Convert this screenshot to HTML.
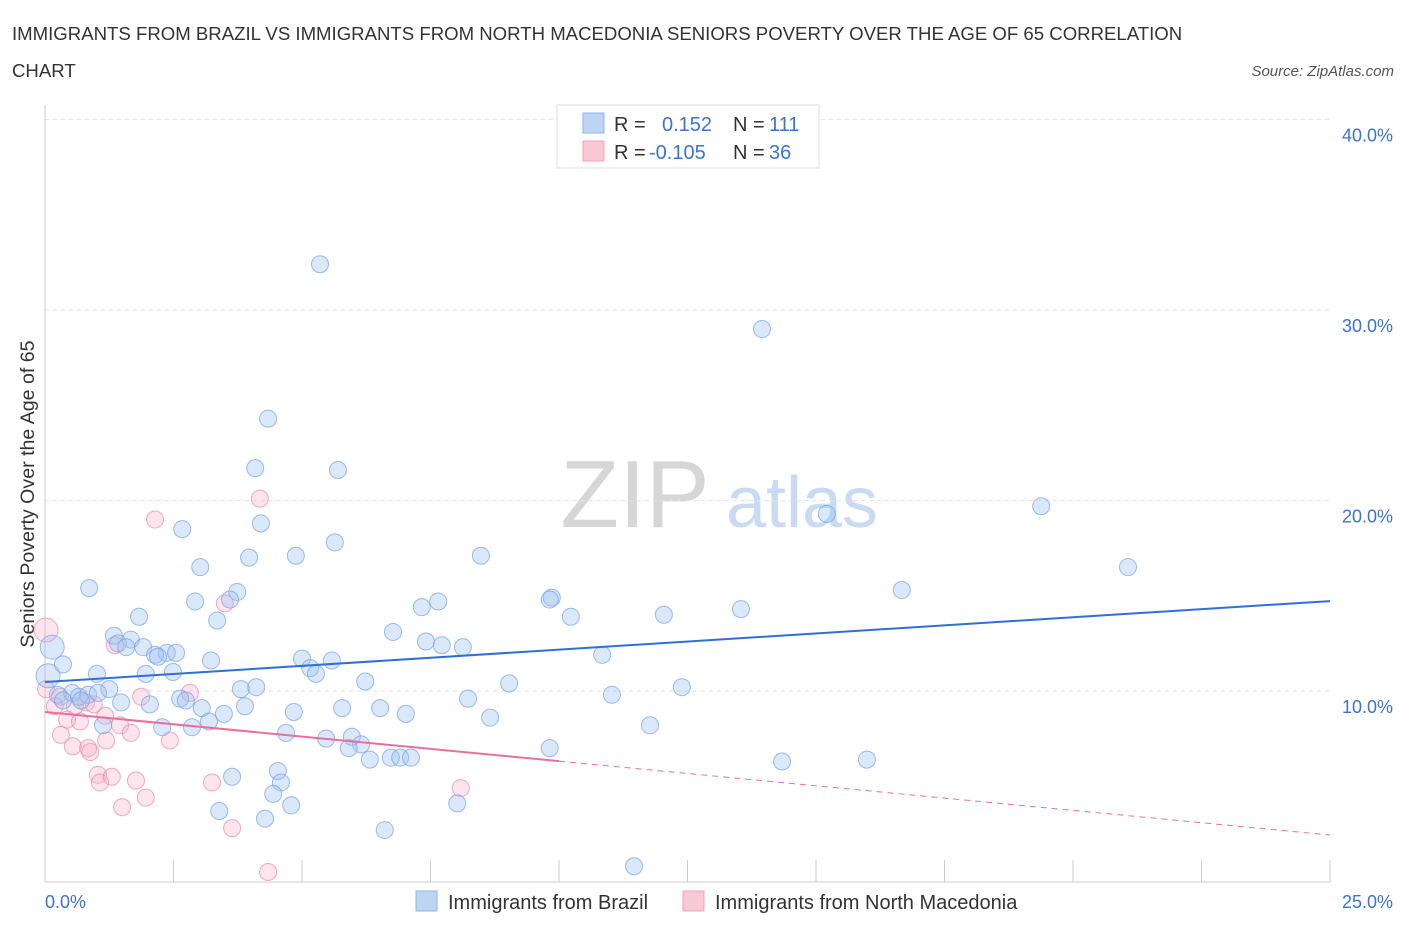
<!DOCTYPE html>
<html><head><meta charset="utf-8"><style>
body{margin:0;background:#fff;font-family:"Liberation Sans",sans-serif}
svg text{font-family:"Liberation Sans",sans-serif}
</style></head><body>
<svg id="chart" width="1406" height="930" viewBox="0 0 1406 930" xmlns="http://www.w3.org/2000/svg">
<text x="12" y="40" font-size="18.6" fill="#333">IMMIGRANTS FROM BRAZIL VS IMMIGRANTS FROM NORTH MACEDONIA SENIORS POVERTY OVER THE AGE OF 65 CORRELATION</text>
<text x="12" y="77" font-size="18.6" fill="#333">CHART</text>
<text x="1394" y="76" font-size="15" fill="#555" text-anchor="end" font-style="italic">Source: ZipAtlas.com</text>
<g>
<text x="635" y="527" font-size="96" fill="#d6d6d6" font-family="Liberation Serif, serif" text-anchor="middle">ZIP</text>
<text x="802" y="527" font-size="72" fill="#c9dbf3" text-anchor="middle">atlas</text>
</g>
<g id="grid"></g>
<line x1="45" y1="105" x2="45" y2="882" stroke="#ccc"/>
<line x1="45" y1="882" x2="1330" y2="882" stroke="#ccc"/>
<text transform="translate(34,494) rotate(-90)" font-size="19.6" fill="#333" text-anchor="middle">Seniors Poverty Over the Age of 65</text>
<g id="ticks"></g>
<g id="pinkpts"></g>
<g id="bluepts"></g>
<g id="trends"></g>
<g>
<rect x="557" y="105" width="262" height="63" fill="#fff" stroke="#ddd"/>
<rect x="583" y="113" width="21" height="20" fill="#bcd5f5" stroke="#8fb5e8"/>
<rect x="583" y="141" width="21" height="20" fill="#f9c8d7" stroke="#f0a0bd"/>
<text x="614" y="131" font-size="20" fill="#333">R =</text><text x="662" y="131" font-size="20" fill="#3a74d0">0.152</text>
<text x="733" y="131" font-size="20" fill="#333">N =</text><text x="769" y="131" font-size="20" fill="#3a74d0">111</text>
<text x="614" y="159" font-size="20" fill="#333">R =</text><text x="649" y="159" font-size="20" fill="#3a74d0">-0.105</text>
<text x="733" y="159" font-size="20" fill="#333">N =</text><text x="769" y="159" font-size="20" fill="#3a74d0">36</text>
</g>
<g>
<rect x="416" y="891" width="21" height="20" fill="#bcd5f5" stroke="#8fb5e8"/>
<text x="448" y="909" font-size="20" fill="#333">Immigrants from Brazil</text>
<rect x="683" y="891" width="21" height="20" fill="#f9c8d7" stroke="#f0a0bd"/>
<text x="715" y="909" font-size="20" fill="#333">Immigrants from North Macedonia</text>
</g>
</svg>
<script>
const yTicks=[10,20,30,40];
const yTickLabels=["10.0%","20.0%","30.0%","40.0%"];
const xTickLabels=["0.0%","25.0%"];
const brazilX=[5.35,13.95,4.34,4.09,5.70,4.20,2.67,19.38,21.07,15.21,4.88,5.64,3.97,8.48,3.02,0.86,3.74,2.92,3.60,9.86,9.82,7.65,7.33,10.23,12.04,13.54,16.67,1.83,3.35,6.77,1.34,1.67,1.42,1.58,1.91,2.37,2.55,2.14,2.20,7.72,7.41,8.13,10.84,3.23,5.00,5.58,5.16,5.27,1.01,1.96,2.49,0.35,6.23,9.03,12.39,3.81,4.11,1.25,0.25,0.53,0.66,0.84,1.03,0.70,0.35,1.48,2.04,2.63,2.74,8.23,11.03,3.89,3.05,3.48,4.84,5.78,6.52,7.02,8.66,3.19,1.13,2.28,2.86,11.77,4.69,5.47,5.97,6.15,5.91,9.82,6.32,6.73,6.91,7.12,14.34,15.99,3.64,4.53,4.59,4.44,4.79,3.39,4.28,8.02,6.61,11.46];
const brazilY=[32.4,29.0,24.3,21.7,21.6,18.8,18.5,19.7,16.5,19.3,17.1,17.8,17.0,17.1,16.5,15.4,15.2,14.7,14.8,14.9,14.8,14.7,14.4,13.9,14.0,14.3,15.3,13.9,13.7,13.1,12.9,12.7,12.5,12.3,12.3,12.0,12.0,11.9,11.8,12.4,12.6,12.3,11.9,11.6,11.7,11.6,11.2,10.9,10.9,10.9,11.0,11.4,10.5,10.4,10.2,10.1,10.2,10.1,9.8,9.9,9.7,9.8,9.9,9.5,9.5,9.4,9.3,9.6,9.5,9.6,9.8,9.2,9.1,8.8,8.9,9.1,9.1,8.8,8.6,8.4,8.2,8.1,8.1,8.2,7.8,7.5,7.6,7.2,7.0,7.0,6.4,6.5,6.5,6.5,6.3,6.4,5.5,5.8,5.2,4.6,4.0,3.7,3.3,4.1,2.7,0.8];
const brazilBigX=[0.14,0.06];
const brazilBigY=[12.3,10.8];
const macX=[2.14,4.18,3.50,1.36,0.02,0.29,0.19,0.58,0.80,0.95,0.43,0.68,1.17,1.46,1.67,1.87,2.82,2.43,0.31,0.54,0.84,0.88,1.19,1.03,1.07,1.30,1.77,1.96,1.50,3.25,3.64,4.34,8.09];
const macY=[19.0,20.1,14.6,12.4,10.1,9.7,9.2,9.2,9.4,9.3,8.5,8.4,8.7,8.2,7.8,9.7,9.9,7.4,7.7,7.1,7.0,6.8,7.4,5.6,5.2,5.5,5.3,4.4,3.9,5.2,2.8,0.5,4.9];
const macBigX=[0.02];
const macBigY=[13.2];
const brazilTrend=[10.47,14.72];
const macTrend=[8.9,2.44];
const macSolidEnd=10;

const NS="http://www.w3.org/2000/svg";
const X0=45,X1=1330,Y0=881.5,YPX=19.05;
function sx(v){return X0+(X1-X0)*v/25;}
function sy(v){return Y0-v*YPX;}
function mk(tag,attrs,parent){const e=document.createElementNS(NS,tag);for(const k in attrs)e.setAttribute(k,attrs[k]);parent.appendChild(e);return e;}
const grid=document.getElementById('grid'),ticks=document.getElementById('ticks');
yTicks.forEach((t,i)=>{
  const l=mk('line',{x1:45,x2:1330,y1:sy(t),y2:sy(t),stroke:'#e2e2e2','stroke-dasharray':'4 4'},grid);
  
  
  const tx=mk('text',{x:1393,y:sy(t)+22,'font-size':18,fill:'#3a74d0','text-anchor':'end'},ticks);
  tx.textContent=yTickLabels[i];
  
  
});
for(let i=0;i<=10;i++){
  const x=sx(i*2.5);
  const l=mk('line',{x1:x,x2:x,y1:860,y2:882,stroke:'#ccc'},ticks);
  
  
}
const xl0=mk('text',{x:45,y:908,'font-size':18,fill:'#3a74d0'},ticks);xl0.textContent=xTickLabels[0];


const xl1=mk('text',{x:1393,y:908,'font-size':18,fill:'#3a74d0','text-anchor':'end'},ticks);xl1.textContent=xTickLabels[1];



function pts(xs,ys,r,g,fill,stroke,name){
  xs.forEach((v,i)=>{
    const c=mk('circle',{cx:sx(v),cy:sy(ys[i]),r:r,fill:fill,stroke:stroke,'stroke-width':1},g);
    
    
  });
}
const bp=document.getElementById('bluepts'),pp=document.getElementById('pinkpts');
pts(macBigX,macBigY,12,pp,'rgba(245,170,195,0.3)','rgba(235,140,175,0.75)','macedonia-point');
pts(macX,macY,8.5,pp,'rgba(245,170,195,0.3)','rgba(235,140,175,0.75)','macedonia-point');
pts(brazilBigX,brazilBigY,12,bp,'rgba(160,195,240,0.38)','rgba(120,165,230,0.75)','brazil-point');
pts(brazilX,brazilY,8.5,bp,'rgba(160,195,240,0.38)','rgba(120,165,230,0.75)','brazil-point');

const tg=document.getElementById('trends');
const bt=mk('line',{x1:sx(0),y1:sy(brazilTrend[0]),x2:sx(25),y2:sy(brazilTrend[1]),stroke:'#2f6fd6','stroke-width':2},tg);


const mAt=v=>macTrend[0]+(macTrend[1]-macTrend[0])*v/25;
const mt=mk('line',{x1:sx(0),y1:sy(mAt(0)),x2:sx(macSolidEnd),y2:sy(mAt(macSolidEnd)),stroke:'#e8709a','stroke-width':2},tg);


const md=mk('line',{x1:sx(macSolidEnd),y1:sy(mAt(macSolidEnd)),x2:sx(25),y2:sy(mAt(25)),stroke:'#e8709a','stroke-width':1,'stroke-dasharray':'6 5'},tg);


</script>
</body></html>
